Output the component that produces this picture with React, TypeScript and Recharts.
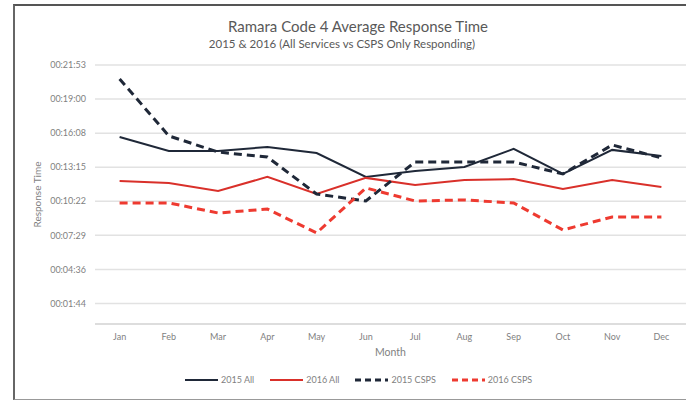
import { LineChart, Line, XAxis, YAxis, CartesianGrid } from 'recharts';

// monthly average response time, in seconds
const months = ['Jan', 'Feb', 'Mar', 'Apr', 'May', 'Jun', 'Jul', 'Aug', 'Sep', 'Oct', 'Nov', 'Dec'];
const all2015 = [948, 877, 877, 898, 867, 746, 776, 796, 888, 761, 883, 852];
const all2016 = [725, 715, 675, 746, 659, 741, 705, 730, 735, 685, 730, 695];
const csps2015 = [1243, 954, 872, 847, 659, 624, 822, 822, 822, 761, 908, 842];
const csps2016 = [614, 614, 563, 583, 462, 690, 624, 629, 614, 477, 543, 543];
const yTicks = [104, 276.8, 449.6, 622.4, 795.2, 968, 1140.8, 1313.6];

const data = months.map((m, i) => ({
  month: m,
  all2015: all2015[i],
  all2016: all2016[i],
  csps2015: csps2015[i],
  csps2016: csps2016[i],
}));

const NAVY = '#1f2838';
const RED = '#d9302a';
const RED_DASH = '#ee3a30';
const FONT = 'Lato, "Open Sans", sans-serif';

const pad = (n: number) => String(n).padStart(2, '0');
const fmtTime = (v: number) => {
  const s = Math.floor(v);
  return `${pad(Math.floor(s / 3600))}:${pad(Math.floor((s % 3600) / 60))}:${pad(s % 60)}`;
};

const legendItems = [
  { name: '2015 All', color: NAVY, dash: undefined, width: 2 },
  { name: '2016 All', color: RED, dash: undefined, width: 2 },
  { name: '2015 CSPS', color: NAVY, dash: '6 4', width: 3 },
  { name: '2016 CSPS', color: RED_DASH, dash: '6 4', width: 3 },
];

export default function App() {
  return (
    <div style={{ position: 'absolute', left: 0, top: 0, width: 686, height: 400, background: '#fff', fontFamily: FONT, overflow: 'hidden' }}>
      <div style={{ position: 'absolute', left: 13, top: 4, width: 680, height: 393, borderTop: '2px solid #555', borderLeft: '2px solid #666', borderBottom: '1px solid #999' }} />
      <div style={{ position: 'absolute', left: 0, width: 716, top: 17, textAlign: 'center', fontSize: 15, color: '#595959' }}>
        Ramara Code 4 Average Response Time
      </div>
      <div style={{ position: 'absolute', left: 0, width: 684, top: 37, textAlign: 'center', fontSize: 11.5, color: '#595959' }}>
        2015 &amp; 2016 (All Services vs CSPS Only Responding)
      </div>
      <div style={{ position: 'absolute', left: 0, top: 0 }}>
        <LineChart width={686} height={400} data={data} margin={{ top: 65, right: 0, left: 0, bottom: 46 }} style={{ outline: 'none' }}>
          <CartesianGrid vertical={false} stroke="#e2e2e2" strokeWidth={1.5} />
          <XAxis
            dataKey="month"
            height={30}
            padding={{ left: 24.6, right: 24.6 }}
            tickSize={0}
            tickMargin={10}
            axisLine={{ stroke: '#d9d9d9', strokeWidth: 1.5 }}
            tick={{ fontSize: 9, fill: '#7f7f7f', fontFamily: FONT }}
            label={{ value: 'Month', position: 'insideBottom', offset: -2, fontSize: 10.5, fill: '#7f7f7f', fontFamily: FONT }}
          />
          <YAxis
            width={95}
            domain={[0, 1313.6]}
            ticks={yTicks}
            tickFormatter={fmtTime}
            tickSize={0}
            tickMargin={9}
            axisLine={false}
            tick={{ fontSize: 9, fill: '#7f7f7f', fontFamily: FONT }}
            label={{ value: 'Response Time', angle: -90, position: 'center', dx: -10, fontSize: 10, fill: '#7f7f7f', fontFamily: FONT }}
          />
          <Line dataKey="all2015" stroke={NAVY} strokeWidth={2} dot={false} isAnimationActive={false} />
          <Line dataKey="all2016" stroke={RED} strokeWidth={2} dot={false} isAnimationActive={false} />
          <Line dataKey="csps2015" stroke={NAVY} strokeWidth={3} strokeDasharray="8 5" dot={false} isAnimationActive={false} />
          <Line dataKey="csps2016" stroke={RED_DASH} strokeWidth={3} strokeDasharray="8 5" dot={false} isAnimationActive={false} />
        </LineChart>
      </div>
      <div style={{ position: 'absolute', left: 185, top: 374, display: 'flex', alignItems: 'center', fontSize: 9, color: '#7f7f7f' }}>
        {legendItems.map((it) => (
          <div key={it.name} style={{ display: 'flex', alignItems: 'center', marginRight: 16 }}>
            <svg width={33} height={8}>
              <line x1={0} y1={4} x2={33} y2={4} stroke={it.color} strokeWidth={it.width} strokeDasharray={it.dash} />
            </svg>
            <span style={{ marginLeft: 3 }}>{it.name}</span>
          </div>
        ))}
      </div>
    </div>
  );
}
